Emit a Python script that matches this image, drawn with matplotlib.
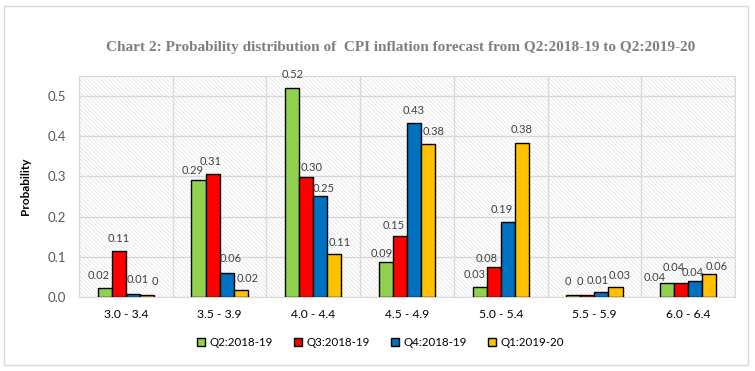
import matplotlib
matplotlib.use("Agg")
from matplotlib import pyplot as plt
from matplotlib.patches import Rectangle
import numpy as np

# ranges of CPI inflation (per cent)
categories = ["3.0 - 3.4", "3.5 - 3.9", "4.0 - 4.4", "4.5 - 4.9",
              "5.0 - 5.4", "5.5 - 5.9", "6.0 - 6.4"]
series = ["Q2:2018-19", "Q3:2018-19", "Q4:2018-19", "Q1:2019-20"]

q2_1819 = [0.023, 0.290, 0.520, 0.087, 0.026, 0.004, 0.035]
q3_1819 = [0.114, 0.305, 0.298, 0.152, 0.075, 0.004, 0.035]
q4_1819 = [0.008, 0.060, 0.251, 0.433, 0.187, 0.012, 0.040]
q1_1920 = [0.004, 0.018, 0.108, 0.381, 0.383, 0.025, 0.057]

# data labels as printed on the chart
lab_q2 = ["0.02", "0.29", "0.52", "0.09", "0.03", "0", "0.04"]
lab_q3 = ["0.11", "0.31", "0.30", "0.15", "0.08", "0", "0.04"]
lab_q4 = ["0.01", "0.06", "0.25", "0.43", "0.19", "0.01", "0.04"]
lab_q1 = ["0", "0.02", "0.11", "0.38", "0.38", "0.03", "0.06"]

values = [q2_1819, q3_1819, q4_1819, q1_1920]
labels = [lab_q2, lab_q3, lab_q4, lab_q1]
colors = ["#92D050", "#FF0000", "#0070C0", "#FFC000"]

# label nudges (pixels, dx / height above bar top), as placed in the original
nudge = [
    [(-6, 12), (-6, 10), (0, 14), (-4, 9), (-5, 12), (-5, 14), (-12, 5)],
    [(0, 13), (-2, 13), (5, 10), (-6, 10), (-7, 8), (-8, 14), (-7, 15)],
    [(5, 14), (4, 14), (3, 8), (0, 13), (-6, 12), (-4, 12), (-2, 8)],
    [(8, 14), (7, 11), (5, 11), (5, 12), (0, 14), (4, 11), (7, 8)],
]

fig = plt.figure(figsize=(7.55, 3.71), dpi=100)
ax = fig.add_axes([79 / 755, 1 - 297 / 371, 656 / 755, 221 / 371])

# outer chart border
fig.patches.append(Rectangle((4 / 755, 1 - 365 / 371), 744 / 755, 359 / 371,
                             transform=fig.transFigure, fill=False,
                             edgecolor="#d9d9d9", linewidth=1))

# hatched plot area
plt.rcParams["hatch.linewidth"] = 0.5
bg = Rectangle((0, 0), 1, 1, transform=ax.transAxes, facecolor="white",
               edgecolor="#e2e2e2", linewidth=0, hatch="\\" * 8, zorder=0.1)
ax.add_patch(bg)

x = np.arange(len(categories))
w = 0.15
for i, (vals, labs, col) in enumerate(zip(values, labels, colors)):
    xs = x + (i - 1.5) * w
    ax.bar(xs, vals, w, color=col, edgecolor="black", linewidth=1,
           label=series[i], zorder=3)
    for j in range(len(xs)):
        dx, dy = nudge[i][j]
        ax.annotate(labs[j], (xs[j], vals[j]), xytext=(dx, dy),
                    textcoords="offset pixels", ha="center", va="center",
                    fontsize=8, color="#404040", family="Lato", zorder=4)

ax.set_xlim(-0.5, len(categories) - 0.5)
ax.set_ylim(0, 0.55)
ax.set_yticks(np.arange(0, 0.51, 0.1))
ax.set_yticklabels(["%.1f" % v for v in np.arange(0, 0.51, 0.1)],
                   fontsize=9.5, color="#595959", family="Lato")
ax.set_xticks(x)
ax.set_xticklabels(categories, fontsize=8.7, color="black", family="Lato")
ax.set_xticks(np.arange(-0.5, len(categories)), minor=True)
ax.tick_params(axis="both", which="both", length=0)
ax.tick_params(axis="x", pad=9)
ax.tick_params(axis="y", pad=9)

ax.set_axisbelow(True)
ax.grid(axis="y", color="#d9d9d9", linewidth=1, zorder=0.5)
ax.grid(axis="x", which="minor", color="#d9d9d9", linewidth=1, zorder=0.5)
for s in ax.spines.values():
    s.set_color("#d9d9d9")

ax.set_ylabel("Probability", fontsize=8.5, fontweight="bold", family="Lato",
              labelpad=12)

fig.text(0.53, 1 - 47 / 371,
         "Chart 2: Probability distribution of  CPI inflation forecast from Q2:2018-19 to Q2:2019-20",
         ha="center", va="center", fontsize=11, fontweight="bold",
         color="#7f7f7f", family="Liberation Serif")

fig.legend(loc="center", bbox_to_anchor=(0.504, 0.076), ncol=4, frameon=False,
           handlelength=0.7, handleheight=0.7, handletextpad=0.4,
           columnspacing=1.8, prop={"family": "Lato", "size": 8.3})

fig.savefig("out.png", dpi=100)
